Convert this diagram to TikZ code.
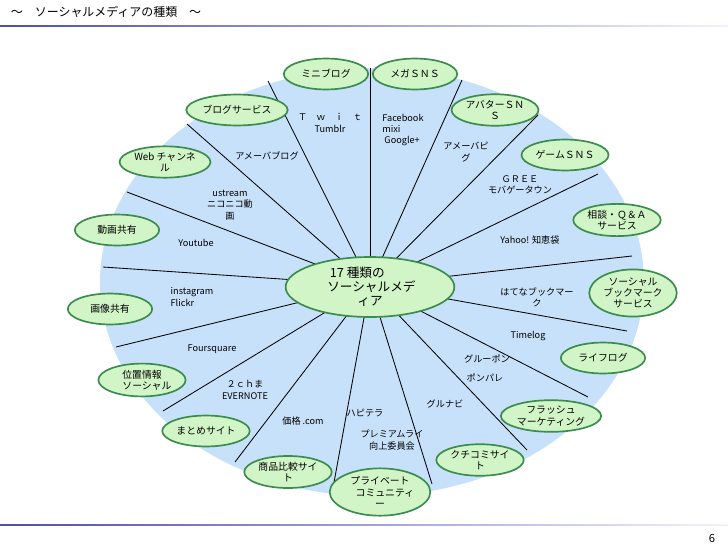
\documentclass[tikz,border=0pt]{standalone}
\usepackage{fontspec}
\setmainfont{Noto Sans CJK JP}
\usetikzlibrary{shapes.geometric}
\definecolor{bgblue}{RGB}{200,225,250}
\definecolor{catfill}{RGB}{210,245,200}
\definecolor{catline}{RGB}{60,140,80}
\tikzset{
  cat/.style={ellipse, draw=catline, line width=1.2pt, fill=catfill, align=center,
    font=\fontsize{7}{8}\selectfont, minimum width=60pt, minimum height=22pt, inner sep=1pt},
  svc/.style={align=center, font=\fontsize{6.5}{8}\selectfont, inner sep=0pt},
  spoke/.style={black, line width=0.6pt}
}
\begin{document}
\begin{tikzpicture}[x=0.025cm,y=-0.025cm]
\useasboundingbox (0,0) rectangle (728,546);

% title and rules
\node[anchor=west, font=\fontsize{8.5}{9}\selectfont] (title) at (6,12) {～　ソーシャルメディアの種類　～};
\shade[left color=blue!40!gray, right color=blue!5] (0,25) rectangle (728,26.5);
\shade[left color=blue!40!gray, right color=blue!5] (0,524) rectangle (728,525.5);
\node[font=\fontsize{8}{9}\selectfont] (page) at (712,538) {6};

% background
\fill[bgblue] (372,282) ellipse (272 and 214);

% spokes
\coordinate (c) at (370,285);
\foreach \px/\py in {187/124,127/192,103/267,116/347,163/411,235/462,333/488,
  268/81,370/68,462/80,538/115,598/174,632/256,627/331,588/397,527/450,432/484}
  \draw[spoke] (c) -- (\px,\py);

% center
\node[cat, font=\fontsize{9}{10}\selectfont, minimum width=120pt, minimum height=42pt] (hub) at (370,287)
  {17 種類の\qquad\qquad\\ \ ソーシャルメデ\\ ィア};

% categories
\node[cat] (mini) at (326,74) {ミニブログ};
\node[cat] (mega) at (415,74) {メガＳＮＳ};
\node[cat] (blog) at (237,110) {ブログサービス};
\node[cat] (avatar) at (495,110) {アバターＳＮ\\Ｓ};
\node[cat] (webch) at (165,162) {Web チャンネ\\ル};
\node[cat] (game) at (565,155) {ゲームＳＮＳ};
\node[cat] (movie) at (117,230) {動画共有};
\node[cat] (qa) at (617,220) {相談・Ｑ＆Ａ\\サービス};
\node[cat] (photo) at (110,309) {画像共有};
\node[cat, minimum height=26pt] (bookmark) at (633,293) {ソーシャル\\ブックマーク\\サービス};
\node[cat] (geo) at (142,380) {位置情報\qquad\\\quad ソーシャル};
\node[cat] (lifelog) at (603,358) {ライフログ};
\node[cat] (matome) at (206,431) {まとめサイト};
\node[cat] (flash) at (551,416) {フラッシュ\\マーケティング};
\node[cat] (price) at (288,472) {商品比較サイ\\ト};
\node[cat] (kuchikomi) at (480,460) {クチコミサイ\\ト};
\node[cat] (private) at (380,492) {プライベート\\\quad コミュニティ\\ー};

% services
\node[svc] (twit) at (330,123) {Ｔ　ｗ　ｉ　ｔ\\Tumblr};
\node[svc, align=left] (fb) at (403,130) {Facebook\\mixi\\\ Google+};
\node[svc] (ameblo) at (267,156) {アメーバブログ};
\node[svc] (amepig) at (466,152) {アメーバピ\\グ};
\node[svc] (ustream) at (230,205) {ustream\\ニコニコ動\\画};
\node[svc] (gree) at (520,185) {ＧＲＥＥ\\モバゲータウン};
\node[svc] (youtube) at (196,243) {Youtube};
\node[svc] (yahoo) at (530,240) {Yahoo! 知恵袋};
\node[svc, align=left] (insta) at (192,297) {instagram\\Flickr};
\node[svc] (hatena) at (537,297) {はてなブックマー\\ク};
\node[svc] (foursq) at (212,349) {Foursquare};
\node[svc] (timelog) at (528,336) {Timelog};
\node[svc] (ch2) at (245,390) {２ｃｈま\\EVERNOTE};
\node[svc] (groupon) at (487,359) {グルーポン};
\node[svc] (ponpare) at (485,378) {ポンパレ};
\node[svc] (kakaku) at (303,421) {価格 .com};
\node[svc] (hapitera) at (365,413) {ハピテラ};
\node[svc] (gurunavi) at (445,404) {グルナビ};
\node[svc] (premium) at (392,440) {プレミアムライ\\向上委員会};
\end{tikzpicture}
\end{document}
